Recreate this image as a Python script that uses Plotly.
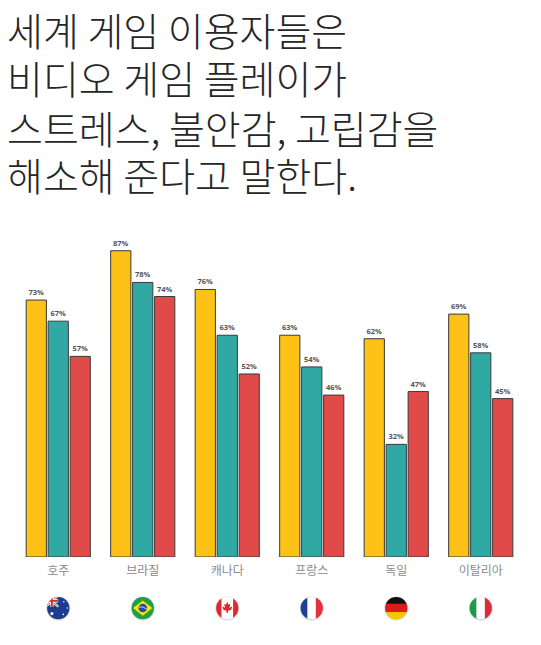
import base64
import plotly.graph_objects as go

countries = ["호주", "브라질", "캐나다", "프랑스", "독일", "이탈리아"]
stress = [73, 87, 76, 63, 62, 69]
anxiety = [67, 78, 63, 54, 32, 58]
isolation = [57, 74, 52, 46, 47, 45]
series_names = ["스트레스", "불안감", "고립감"]
colors = ["#FDC215", "#30A9A5", "#E04B4A"]
title_lines = ["세계 게임 이용자들은", "비디오 게임 플레이가", "스트레스, 불안감, 고립감을", "해소해 준다고 말한다."]

W, H = 541, 645
ML, MR, MT, MB = 8, 26, 197, 96
PH = H - MT - MB

fig = go.Figure()
for name, vals, col in zip(series_names, [stress, anxiety, isolation], colors):
    fig.add_trace(go.Bar(
        x=countries, y=vals, name=name,
        marker=dict(color=col, line=dict(color="#3a3a3a", width=1)),
        text=[f"{v}%" for v in vals], textposition="outside",
        textfont=dict(family="Open Sans", size=7.5, color="#555555", weight="bold"),
        cliponaxis=False,
    ))

def circ(inner):
    svg = ('<svg xmlns="http://www.w3.org/2000/svg" width="100" height="100" viewBox="0 0 100 100">'
           '<defs><clipPath id="c"><circle cx="50" cy="50" r="44"/></clipPath>'
           '<radialGradient id="s"><stop offset="0.8" stop-color="#000" stop-opacity="0.25"/>'
           '<stop offset="1" stop-color="#000" stop-opacity="0"/></radialGradient></defs>'
           '<circle cx="50" cy="52" r="50" fill="url(#s)"/>'
           '<g clip-path="url(#c)">' + inner + '</g></svg>')
    return "data:image/svg+xml;base64," + base64.b64encode(svg.encode()).decode()

flags = {
    "호주": circ('<rect width="100" height="100" fill="#1f3b8f"/>'
                 '<path d="M0 0 L50 45 M50 0 L0 45" stroke="#fff" stroke-width="9"/>'
                 '<path d="M0 0 L50 45 M50 0 L0 45" stroke="#d52b1e" stroke-width="3"/>'
                 '<path d="M25 0 V45 M0 22 H50" stroke="#fff" stroke-width="13"/>'
                 '<path d="M25 0 V45 M0 22 H50" stroke="#d52b1e" stroke-width="7"/>'
                 '<circle cx="25" cy="72" r="6" fill="#fff"/><circle cx="72" cy="25" r="3" fill="#fff"/>'
                 '<circle cx="85" cy="50" r="3" fill="#fff"/><circle cx="70" cy="75" r="3" fill="#fff"/>'),
    "브라질": circ('<rect width="100" height="100" fill="#229e45"/>'
                 '<polygon points="50,20 88,50 50,80 12,50" fill="#f8e509"/>'
                 '<circle cx="50" cy="50" r="17" fill="#2b49a3"/>'
                 '<path d="M34 46 Q50 42 66 54" stroke="#fff" stroke-width="3" fill="none"/>'),
    "캐나다": circ('<rect width="100" height="100" fill="#fff"/>'
                 '<rect width="27" height="100" fill="#e0282e"/><rect x="73" width="27" height="100" fill="#e0282e"/>'
                 '<polygon points="50,25 55,37 62,33 59,50 67,44 69,50 64,55 67,58 54,60 52,70 48,70 46,60 33,58 36,55 31,50 33,44 41,50 38,33 45,37" fill="#e0282e"/>'),
    "프랑스": circ('<rect width="34" height="100" fill="#1f3f9b"/><rect x="33" width="34" height="100" fill="#fff"/>'
                 '<rect x="66" width="34" height="100" fill="#e4323d"/>'),
    "독일": circ('<rect width="100" height="34" fill="#111"/><rect y="33" width="100" height="34" fill="#dd1c1c"/>'
               '<rect y="66" width="100" height="34" fill="#f6c800"/>'),
    "이탈리아": circ('<rect width="34" height="100" fill="#1e9a4a"/><rect x="33" width="34" height="100" fill="#fff"/>'
                 '<rect x="66" width="34" height="100" fill="#d92d3a"/>'),
}
for c in countries:
    fig.add_layout_image(dict(source=flags[c], xref="x", yref="paper", x=c, y=-0.145,
                              sizex=0.3, sizey=0.075, xanchor="center", yanchor="middle",
                              sizing="contain", layer="above"))

title_font = dict(family="Noto Sans CJK KR Light, Noto Sans CJK KR DemiLight, Noto Sans CJK KR",
                  size=39, color="#262626", weight=300)
line_centers = [21, 69, 118.5, 166]  # pixel centres from figure top
for txt, cy in zip(title_lines, line_centers):
    fig.add_annotation(text=txt, xref="paper", yref="paper", x=0, xshift=-11,
                       y=(H - MB - cy) / PH, xanchor="left", yanchor="middle",
                       showarrow=False, font=title_font)

fig.update_layout(
    width=W, height=H,
    margin=dict(l=ML, r=MR, t=MT, b=MB),
    paper_bgcolor="white", plot_bgcolor="white",
    showlegend=False,
    barmode="group", bargap=0.22, bargroupgap=0.08,
    xaxis=dict(showline=False, showgrid=False, ticks="", ticklen=0, ticklabelstandoff=5,
               tickfont=dict(family="Noto Sans CJK KR", size=12, color="#8a8a8a")),
    yaxis=dict(range=[0, 100], visible=False),
)
fig.write_html("out.html")
